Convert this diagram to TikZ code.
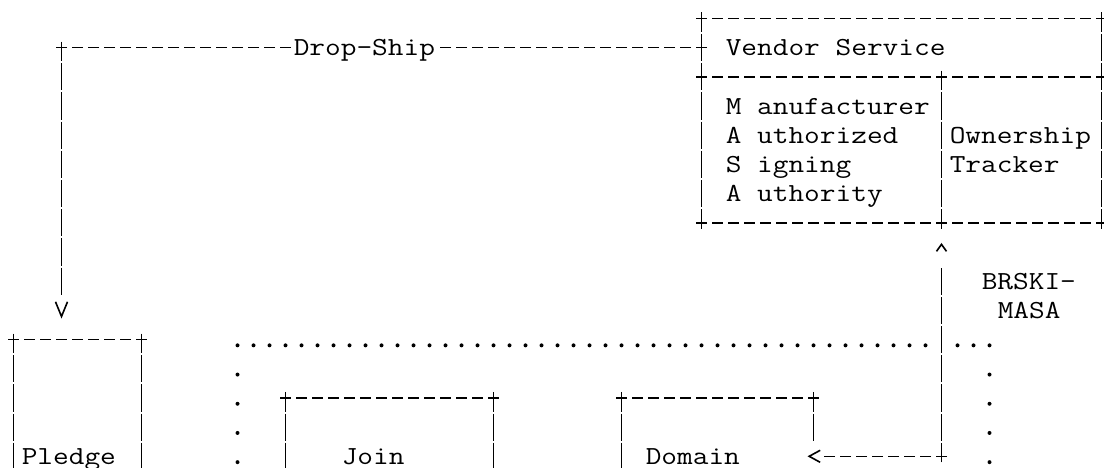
\documentclass[tikz,border=0pt]{standalone}
\usepackage{graphicx}
\usetikzlibrary{arrows.meta,fit,decorations.markings}
\newcommand\mono[1]{\scalebox{1.172}[1]{#1}}
\tikzset{
  txt/.style={anchor=base west, inner sep=0pt, xshift=-6pt, yshift=-6.2pt,
    font=\ttfamily\fontsize{19.5}{21.9}\selectfont},
  box/.style={inner sep=0pt, outer sep=0pt},
  hline/.style={line width=1.2pt, dash pattern=on 8.25pt off 3.75pt,
    shorten <=-4.125pt, shorten >=-4.125pt},
  vline/.style={line width=1.2pt, dash pattern=on 20.4pt off 1.5pt, dash phase=5.7pt,
    shorten <=-4.5pt, shorten >=-4.5pt},
  dots/.style={line width=3pt, line cap=round, dash pattern=on 0pt off 12pt},
  vdots/.style={dots, dash pattern=on 0pt off 21.9pt},
  tip/.style={postaction=decorate, decoration={markings,
    mark=at position 1 with {\arrow[solid]{#1}}}},
}
\begin{document}
\begin{tikzpicture}[x=12pt, y=-21.9pt]
\useasboundingbox (-0.844,-0.627) rectangle (68.156,15.4);
\clip (-0.844,-0.627) rectangle (68.156,15.4);
% vendor service
\node[box, fit={(43,0)(68,7)}] (vendor) {};
\node[box, fit={(43,2)(58,7)}] (masa) {};
\node[box, fit={(58,2)(68,7)}] (tracker) {};
\draw[hline] (vendor.north west) -- (vendor.north east);
\draw[hline] (masa.north west) -- (tracker.north east);
\draw[hline] (vendor.south west) -- (vendor.south east);
\draw[vline] (vendor.north west) -- (vendor.south west);
\draw[vline] (vendor.north east) -- (vendor.south east);
\draw[vline] (masa.north east) -- (masa.south east);
\node[txt] (vendorname) at (45,1) {\mono{Vendor Service}};
\node[txt] (mfr) at (45,3) {\mono{M anufacturer}};
\node[txt] (auth) at (45,4) {\mono{A uthorized}};
\node[txt] (sign) at (45,5) {\mono{S igning}};
\node[txt] (ority) at (45,6) {\mono{A uthority}};
\node[txt] (owner) at (59,4) {\mono{Ownership}};
\node[txt] (track) at (59,5) {\mono{Tracker}};
% pledge, proxy, registrar
\node[box, fit={(0,11)(8,18)}] (pledge) {};
\draw[hline] (pledge.north west) -- (pledge.north east);
\draw[vline] (pledge.north west) -- (pledge.south west);
\draw[vline] (pledge.north east) -- (pledge.south east);
\node[txt] (pledgename) at (1,15) {\mono{Pledge}};
\node[box, fit={(17,13)(30,18)}] (proxy) {};
\draw[hline] (proxy.north west) -- (proxy.north east);
\draw[vline] (proxy.north west) -- (proxy.south west);
\draw[vline] (proxy.north east) -- (proxy.south east);
\node[txt] (proxyname) at (21,15) {\mono{Join}};
\node[box, fit={(38,13)(50,18)}] (registrar) {};
\draw[hline] (registrar.north west) -- (registrar.north east);
\draw[vline] (registrar.north west) -- (registrar.south west);
\draw[vline, shorten >=-10.2pt] (registrar.north east) -- +(0,1);
\node[txt] (registrarname) at (40,15) {\mono{Domain}};
% domain components
\draw[dots] (14,11.2) -- (57.3,11.2);
\draw[dots] (59,11.2) -- (61.3,11.2);
\draw[vdots] (14,12.2) -- (14,16);
\draw[vdots] (61,12.2) -- (61,16);
% drop-ship
\coordinate (dropcorner) at (3,1);
\coordinate (droptip) at ([yshift=15.7pt]dropcorner |- pledge.north);
\node[txt, inner xsep=1.875pt, xshift=-1.875pt] (dropship) at (18,1) {\mono{Drop-Ship}};
\draw[hline, shorten >=0pt] (vendor.west |- dropcorner) -- (dropship.east |- dropcorner);
\draw[hline, shorten <=0pt] (dropship.west |- dropcorner) -- (dropcorner);
\draw[vline, shorten >=17.9pt, tip={Straight Barb[length=11pt,width=9pt]}]
  (dropcorner) -- (droptip);
% brski-masa
\coordinate (masaknee) at (58,15);
\coordinate (masatip) at ([yshift=-15.2pt]masa.south east);
\coordinate (regtip) at ([xshift=-4.5pt]masaknee -| registrar.east);
\draw[vline, shorten >=18.35pt, tip={Straight Barb[length=5.25pt,width=7.5pt]}]
  (masaknee) -- (masatip);
\draw[hline, shorten >=12.35pt, tip={Straight Barb[length=8.25pt,width=9pt]}]
  (masaknee) -- (regtip);
\node[txt] (brski) at (61,9) {\mono{BRSKI-}};
\node[txt] (masaname) at (62,10) {\mono{MASA}};
\end{tikzpicture}
\end{document}
